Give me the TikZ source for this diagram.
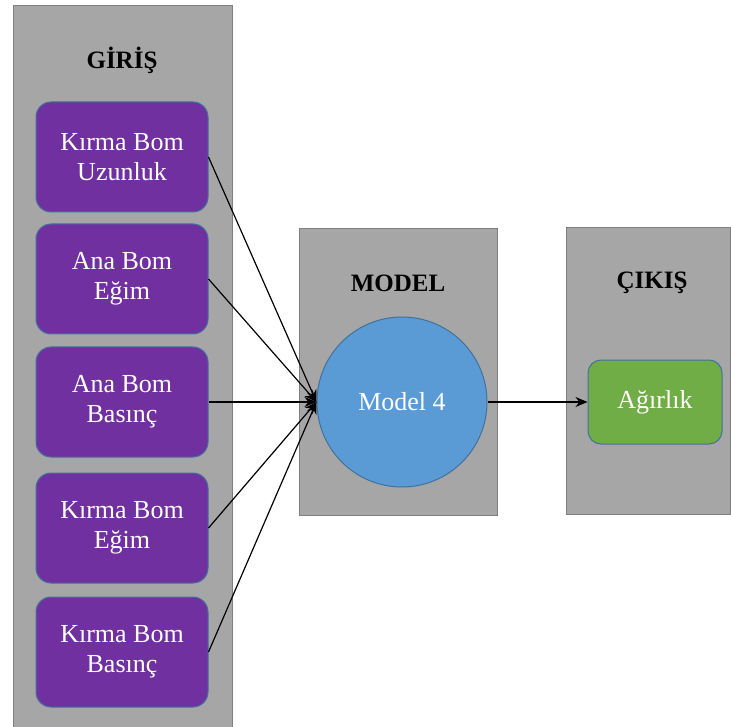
\documentclass[tikz,border=0pt]{standalone}
\usepackage{fontspec}
\setmainfont{Liberation Serif}
\newfontfamily\labelfont{Liberation Serif}
\usetikzlibrary{arrows.meta}
\definecolor{panelgray}{HTML}{A6A6A6}
\definecolor{paneledge}{HTML}{7F7F7F}
\definecolor{boxedge}{HTML}{41719C}
\definecolor{inpurple}{HTML}{7030A0}
\definecolor{modelblue}{HTML}{5B9BD5}
\definecolor{outgreen}{HTML}{70AD47}
\tikzset{
  panel/.style={draw=paneledge, fill=panelgray, line width=0.8pt, inner sep=0pt},
  header/.style={font=\labelfont\fontsize{25}{28}\selectfont\bfseries, text=black},
  inbox/.style={draw=boxedge, fill=inpurple, line width=1pt, rounded corners=15pt,
    minimum width=172pt, minimum height=110pt, text=white, align=center,
    font=\labelfont\fontsize{26}{30}\selectfont},
  modelnode/.style={circle, draw=boxedge, fill=modelblue, line width=1pt,
    minimum size=170pt, inner sep=0pt, text=white, font=\labelfont\fontsize{26}{30}\selectfont},
  outbox/.style={draw=boxedge, fill=outgreen, line width=1pt, rounded corners=13pt,
    minimum width=134pt, minimum height=84pt, text=white, font=\labelfont\fontsize{26}{30}\selectfont},
  link/.style={line width=1.2pt, -{Stealth[length=12pt,width=10pt]}}
}
\begin{document}
\begin{tikzpicture}[x=1pt, y=-1pt]
\useasboundingbox (0,0) rectangle (731,727);
% panels
\node[panel, minimum width=219pt, minimum height=725pt] (inpanel) at (122.5,367.5) {};
\node[panel, minimum width=198pt, minimum height=287pt] (modelpanel) at (398,371.5) {};
\node[panel, minimum width=164pt, minimum height=287pt] (outpanel) at (648,370.5) {};
% headers
\node[header] (inhead) at (122,60) {GİRİŞ};
\node[header] (modelhead) at (398,283) {MODEL};
\node[header] (outhead) at (652,283) {ÇIKIŞ};
% input variables
\node[inbox] (in1) at (122,157) {Kırma Bom\\Uzunluk};
\node[inbox] (in2) at (122,279) {Ana Bom\\Eğim};
\node[inbox] (in3) at (122,402) {Ana Bom\\Basınç};
\node[inbox] (in4) at (122,528) {Kırma Bom\\Eğim};
\node[inbox] (in5) at (122,652) {Kırma Bom\\Basınç};
% model and output
\node[modelnode] (model) at (402,402) {Model 4};
\node[outbox] (out) at (655,402) {Ağırlık};
% connectors
\foreach \i in {1,...,5}
  \draw[link] (in\i.east) -- (model.west);
\draw[link] (model.east) -- (out.west);
\end{tikzpicture}
\end{document}
